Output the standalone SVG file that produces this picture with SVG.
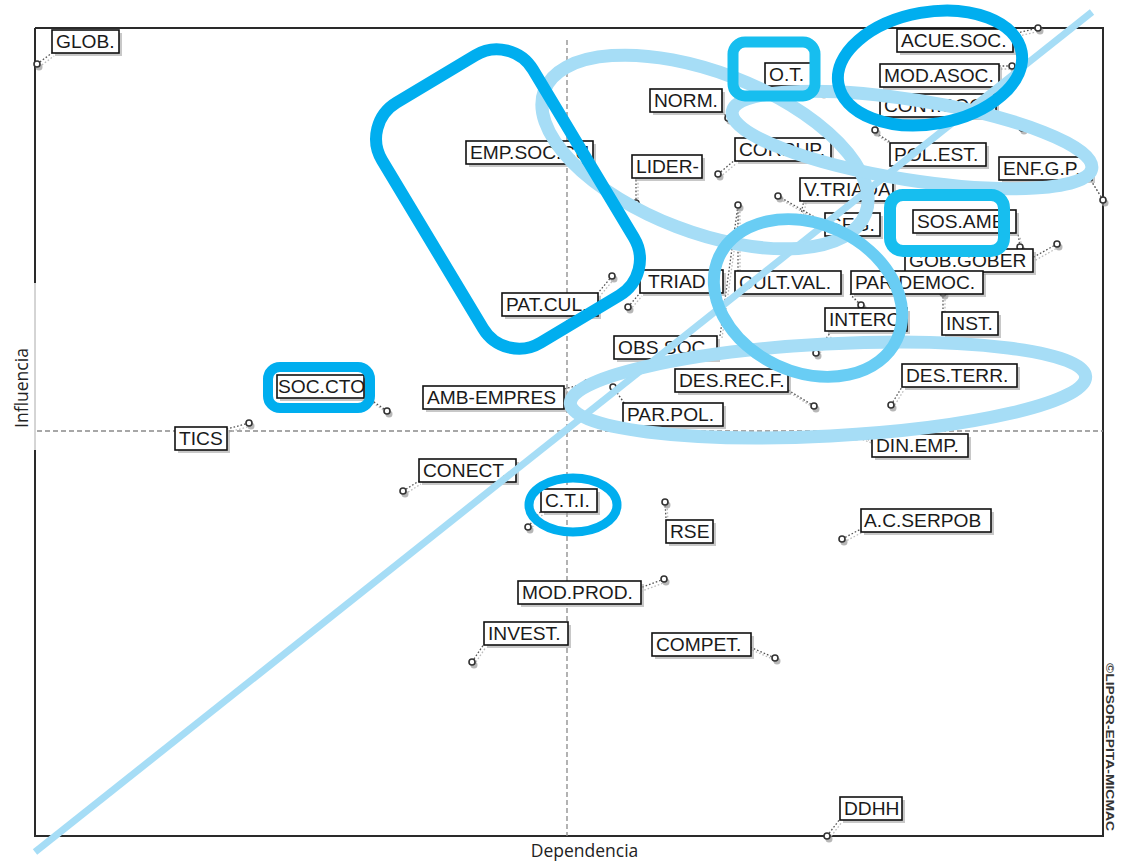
<svg xmlns="http://www.w3.org/2000/svg" width="1121" height="865" viewBox="0 0 1121 865">
<style>
.frame{stroke:#2a2a2a;stroke-width:2;fill:none}
.axis{stroke:#8a8a8a;stroke-width:1.3;stroke-dasharray:5 3;fill:none}
.sh{fill:#9a9a9a;opacity:.55}
.bx{fill:#fff;stroke:#111;stroke-width:1.6}
.lb{font-family:"Liberation Sans",Arial,sans-serif;font-size:19.2px;fill:#1a1a1a}
.ld{stroke:#555;stroke-width:1.3;stroke-dasharray:1.6 2;fill:none}
.lds{stroke:#bbb;stroke-width:1.3;stroke-dasharray:1.6 2;fill:none}
.pt{fill:#fff;stroke:#333;stroke-width:1.6}
.pts{fill:#999;opacity:.7}
.ax{font-family:"Open Sans","Noto Sans",sans-serif;font-size:17.5px;fill:#222}
.dk{fill:none;stroke:#00AEEF;stroke-width:12}
.md{fill:none;stroke:#17BEEF;stroke-width:11}
.mc{fill:none;stroke:#69CDF4;stroke-width:12}
.lt{fill:none;stroke:#A6DDF6;stroke-width:13}
</style>

<!-- frame and axes -->
<g id="frame">
<path class="frame" d="M35 28 H1103 V836 H35 V450 M35 283 V28"/>
<path d="M35 283 V450" stroke="#aaa" stroke-width="1" fill="none"/>
<path class="axis" d="M37 431 H1103"/>
<path class="axis" d="M567 40 V836"/>
<text class="ax" x="584.5" y="857" text-anchor="middle">Dependencia</text>
<text class="ax" transform="translate(28,388) rotate(-90)" text-anchor="middle">Influencia</text>
<text transform="translate(1106,663) rotate(90)" font-family="'Liberation Sans Narrow','Liberation Sans',sans-serif" font-size="10.5" font-weight="bold" fill="#333" textLength="168" lengthAdjust="spacingAndGlyphs">©LIPSOR-EPITA-MICMAC</text>
</g>

<!-- connectors (leaders and points) -->
<g id="connectors">
<path class="lds" d="M39 67 L54 56 M1015 37 L1040 31 M1001 69 L1014 69 M824 95 L811 87 M730 121 L722 112 M877 133 L882 116 M1024 131 L996 116 M602 186 L594 167 M638 206 L638 181 M720 177 L737 163 M875 134 L892 145 M1105 203 L1092 182 M780 199 L827 226 M802 222 L806 203 M1022 250 L1020 236 M1059 247 L1034 261 M740 208 L740 273 M863 308 L852 297 M945 296 L945 314 M818 356 L832 336 M630 310 L642 296 M614 279 L600 296 M722 338 L740 208 M816 409 L790 393 M589 386 L566 392 M615 390 L626 405 M893 408 L904 390 M856 437 L874 444 M389 414 L366 398 M251 426 L229 432 M405 494 L421 484 M530 530 L543 514 M667 505 L668 521 M666 582 L642 591 M474 665 L486 647 M777 661 L752 650 M844 542 L863 532 M829 839 L842 822"/>
<path class="ld" d="M37 64 L52 53 M1013 34 L1038 28 M999 66 L1012 66 M822 92 L809 84 M728 118 L720 109 M875 130 L880 114 M1022 128 L994 113 M600 183 L592 164 M636 203 L636 178 M718 174 L735 160 M873 131 L890 142 M1103 200 L1090 179 M778 196 L825 223 M800 219 L804 200 M1020 247 L1018 233 M1057 244 L1032 258 M738 205 L738 271 M861 305 L850 294 M943 293 L943 312 M816 353 L830 333 M628 307 L640 293 M612 276 L598 293 M720 336 L738 205 M814 406 L788 390 M587 383 L564 389 M613 387 L624 403 M891 405 L902 387 M854 434 L872 441 M387 411 L364 395 M249 423 L227 429 M403 491 L419 481 M528 527 L541 511 M665 502 L666 519 M664 579 L640 588 M472 662 L484 644 M775 658 L750 647 M842 539 L861 529 M827 836 L840 819"/>
<g class="pts">
<circle cx="39" cy="67" r="3.5"/><circle cx="1040" cy="31" r="3.5"/><circle cx="1014" cy="69" r="3.5"/><circle cx="824" cy="95" r="3.5"/><circle cx="730" cy="121" r="3.5"/><circle cx="877" cy="133" r="3.5"/><circle cx="1024" cy="131" r="3.5"/><circle cx="602" cy="186" r="3.5"/><circle cx="638" cy="206" r="3.5"/><circle cx="720" cy="177" r="3.5"/><circle cx="1105" cy="203" r="3.5"/><circle cx="780" cy="199" r="3.5"/><circle cx="802" cy="222" r="3.5"/><circle cx="1022" cy="250" r="3.5"/><circle cx="1059" cy="247" r="3.5"/><circle cx="740" cy="208" r="3.5"/><circle cx="863" cy="308" r="3.5"/><circle cx="945" cy="296" r="3.5"/><circle cx="818" cy="356" r="3.5"/><circle cx="630" cy="310" r="3.5"/><circle cx="614" cy="279" r="3.5"/><circle cx="816" cy="409" r="3.5"/><circle cx="589" cy="386" r="3.5"/><circle cx="615" cy="390" r="3.5"/><circle cx="893" cy="408" r="3.5"/><circle cx="856" cy="437" r="3.5"/><circle cx="389" cy="414" r="3.5"/><circle cx="251" cy="426" r="3.5"/><circle cx="405" cy="494" r="3.5"/><circle cx="530" cy="530" r="3.5"/><circle cx="667" cy="505" r="3.5"/><circle cx="666" cy="582" r="3.5"/><circle cx="474" cy="665" r="3.5"/><circle cx="777" cy="661" r="3.5"/><circle cx="844" cy="542" r="3.5"/><circle cx="829" cy="839" r="3.5"/>
</g>
<g class="pt">
<circle cx="37" cy="64" r="3"/><circle cx="1038" cy="28" r="3"/><circle cx="1012" cy="66" r="3"/><circle cx="822" cy="92" r="3"/><circle cx="728" cy="118" r="3"/><circle cx="875" cy="130" r="3"/><circle cx="1022" cy="128" r="3"/><circle cx="600" cy="183" r="3"/><circle cx="636" cy="203" r="3"/><circle cx="718" cy="174" r="3"/><circle cx="1103" cy="200" r="3"/><circle cx="778" cy="196" r="3"/><circle cx="800" cy="219" r="3"/><circle cx="1020" cy="247" r="3"/><circle cx="1057" cy="244" r="3"/><circle cx="738" cy="205" r="3"/><circle cx="861" cy="305" r="3"/><circle cx="943" cy="293" r="3"/><circle cx="816" cy="353" r="3"/><circle cx="628" cy="307" r="3"/><circle cx="612" cy="276" r="3"/><circle cx="814" cy="406" r="3"/><circle cx="587" cy="383" r="3"/><circle cx="613" cy="387" r="3"/><circle cx="891" cy="405" r="3"/><circle cx="854" cy="434" r="3"/><circle cx="387" cy="411" r="3"/><circle cx="249" cy="423" r="3"/><circle cx="403" cy="491" r="3"/><circle cx="528" cy="527" r="3"/><circle cx="665" cy="502" r="3"/><circle cx="664" cy="579" r="3"/><circle cx="472" cy="662" r="3"/><circle cx="775" cy="658" r="3"/><circle cx="842" cy="539" r="3"/><circle cx="827" cy="836" r="3"/>
</g>
</g>

<!-- nodes -->
<g id="n-glob"><rect class="sh" x="55" y="33" width="67" height="23"/><rect class="bx" x="52" y="30" width="67" height="23"/><text class="lb" x="56" y="48">GLOB.</text></g>
<g id="n-acuesoc"><rect class="sh" x="900" y="32" width="116" height="23"/><rect class="bx" x="897" y="29" width="116" height="23"/><text class="lb" x="901" y="47">ACUE.SOC.</text></g>
<g id="n-ot"><rect class="sh" x="768" y="66" width="46" height="23"/><rect class="bx" x="765" y="63" width="46" height="23"/><text class="lb" x="769" y="81">O.T.</text></g>
<g id="n-modasoc"><rect class="sh" x="883" y="67" width="119" height="23"/><rect class="bx" x="880" y="64" width="119" height="23"/><text class="lb" x="884" y="82">MOD.ASOC.</text></g>
<g id="n-norm"><rect class="sh" x="653" y="92" width="72" height="23"/><rect class="bx" x="650" y="89" width="72" height="23"/><text class="lb" x="654" y="107">NORM.</text></g>
<g id="n-contsoc"><rect class="sh" x="883" y="97" width="116" height="23"/><rect class="bx" x="880" y="94" width="116" height="23"/><text class="lb" x="884" y="112">CONT.SOC.</text></g>
<g id="n-empsoc"><rect class="sh" x="469" y="144" width="127" height="23"/><rect class="bx" x="466" y="141" width="127" height="23"/><text class="lb" x="470" y="159">EMP.SOC.CU.</text></g>
<g id="n-lider"><rect class="sh" x="635" y="158" width="70" height="23"/><rect class="bx" x="632" y="155" width="70" height="23"/><text class="lb" x="636" y="173">LIDER-</text></g>
<g id="n-corrup"><rect class="sh" x="738" y="141" width="96" height="23"/><rect class="bx" x="735" y="138" width="96" height="23"/><text class="lb" x="739" y="156">CORRUP.</text></g>
<g id="n-polest"><rect class="sh" x="893" y="146" width="96" height="23"/><rect class="bx" x="890" y="143" width="96" height="23"/><text class="lb" x="894" y="161">POL.EST.</text></g>
<g id="n-enfgp"><rect class="sh" x="1002" y="160" width="93" height="23"/><rect class="bx" x="999" y="157" width="93" height="23"/><text class="lb" x="1003" y="175">ENF.G.P.</text></g>
<g id="n-vtriada"><rect class="sh" x="803" y="181" width="93" height="23"/><rect class="bx" x="800" y="178" width="93" height="23"/><text class="lb" x="804" y="196">V.TRIADA</text></g>
<g id="n-seg"><rect class="sh" x="828" y="216" width="55" height="23"/><rect class="bx" x="825" y="213" width="55" height="23"/><text class="lb" x="829" y="231">SEG.</text></g>
<g id="n-sosamb"><rect class="sh" x="916" y="213" width="103" height="23"/><rect class="bx" x="913" y="210" width="103" height="23"/><text class="lb" x="917" y="228">SOS.AMB.</text></g>
<g id="n-gobgober"><rect class="sh" x="908" y="252" width="128" height="23"/><rect class="bx" x="905" y="249" width="128" height="23"/><text class="lb" x="909" y="267">GOB.GOBER</text></g>
<g id="n-cultval"><rect class="sh" x="738" y="274" width="106" height="23"/><rect class="bx" x="735" y="271" width="106" height="23"/><text class="lb" x="739" y="289">CULT.VAL.</text></g>
<g id="n-pardemoc"><rect class="sh" x="854" y="274" width="132" height="23"/><rect class="bx" x="851" y="271" width="132" height="23"/><text class="lb" x="855" y="289">PAR.DEMOC.</text></g>
<g id="n-inst"><rect class="sh" x="945" y="315" width="56" height="23"/><rect class="bx" x="942" y="312" width="56" height="23"/><text class="lb" x="946" y="330">INST.</text></g>
<g id="n-interc"><rect class="sh" x="828" y="311" width="82" height="23"/><rect class="bx" x="825" y="308" width="82" height="23"/><text class="lb" x="829" y="326">INTERC.</text></g>
<g id="n-triad"><rect class="sh" x="643" y="273" width="83" height="23"/><rect class="bx" x="640" y="270" width="83" height="23"/><text class="lb" x="648" y="288">TRIAD</text></g>
<g id="n-patcul"><rect class="sh" x="505" y="296" width="96" height="23"/><rect class="bx" x="502" y="293" width="96" height="23"/><text class="lb" x="506" y="311">PAT.CUL.</text></g>
<g id="n-obssoc"><rect class="sh" x="617" y="339" width="103" height="23"/><rect class="bx" x="614" y="336" width="103" height="23"/><text class="lb" x="618" y="354">OBS.SOC.</text></g>
<g id="n-desrecf"><rect class="sh" x="678" y="372" width="113" height="23"/><rect class="bx" x="675" y="369" width="113" height="23"/><text class="lb" x="679" y="387">DES.REC.F.</text></g>
<g id="n-ambempres"><rect class="sh" x="426" y="389" width="141" height="23"/><rect class="bx" x="423" y="386" width="141" height="23"/><text class="lb" x="427" y="404">AMB-EMPRES</text></g>
<g id="n-parpol"><rect class="sh" x="626" y="406" width="100" height="23"/><rect class="bx" x="623" y="403" width="100" height="23"/><text class="lb" x="627" y="421">PAR.POL.</text></g>
<g id="n-desterr"><rect class="sh" x="905" y="367" width="115" height="23"/><rect class="bx" x="902" y="364" width="115" height="23"/><text class="lb" x="906" y="382">DES.TERR.</text></g>
<g id="n-dinemp"><rect class="sh" x="875" y="437" width="96" height="23"/><rect class="bx" x="872" y="434" width="96" height="23"/><text class="lb" x="876" y="452">DIN.EMP.</text></g>
<g id="n-soccto"><rect class="sh" x="280" y="378" width="87" height="23"/><rect class="bx" x="277" y="375" width="87" height="23"/><text class="lb" x="278" y="393">SOC.CTO.</text></g>
<g id="n-tics"><rect class="sh" x="178" y="430" width="52" height="23"/><rect class="bx" x="175" y="427" width="52" height="23"/><text class="lb" x="179" y="445">TICS</text></g>
<g id="n-conect"><rect class="sh" x="422" y="462" width="97" height="23"/><rect class="bx" x="419" y="459" width="97" height="23"/><text class="lb" x="423" y="477">CONECT.</text></g>
<g id="n-cti"><rect class="sh" x="544" y="492" width="56" height="23"/><rect class="bx" x="541" y="489" width="56" height="23"/><text class="lb" x="545" y="507">C.T.I.</text></g>
<g id="n-rse"><rect class="sh" x="669" y="523" width="47" height="23"/><rect class="bx" x="666" y="520" width="47" height="23"/><text class="lb" x="670" y="538">RSE</text></g>
<g id="n-modprod"><rect class="sh" x="521" y="584" width="123" height="23"/><rect class="bx" x="518" y="581" width="123" height="23"/><text class="lb" x="522" y="599">MOD.PROD.</text></g>
<g id="n-invest"><rect class="sh" x="487" y="625" width="84" height="23"/><rect class="bx" x="484" y="622" width="84" height="23"/><text class="lb" x="488" y="640">INVEST.</text></g>
<g id="n-compet"><rect class="sh" x="655" y="636" width="99" height="23"/><rect class="bx" x="652" y="633" width="99" height="23"/><text class="lb" x="656" y="651">COMPET.</text></g>
<g id="n-acserpob"><rect class="sh" x="864" y="512" width="130" height="23"/><rect class="bx" x="861" y="509" width="130" height="23"/><text class="lb" x="864" y="527">A.C.SERPOB</text></g>
<g id="n-ddhh"><rect class="sh" x="843" y="800" width="62" height="23"/><rect class="bx" x="840" y="797" width="62" height="23"/><text class="lb" x="844" y="815">DDHH</text></g>

<!-- highlight overlays -->
<g id="highlights">
<line class="lt" x1="35" y1="852" x2="1092" y2="12" style="stroke-width:7"/>
<ellipse class="lt" cx="705" cy="152" rx="172" ry="80" transform="rotate(21 705 152)"/>
<ellipse class="lt" cx="912" cy="140" rx="182" ry="40" transform="rotate(9 912 140)"/>
<ellipse class="lt" cx="828" cy="390" rx="258" ry="46" transform="rotate(-3 828 390)"/>
<ellipse class="mc" cx="808" cy="298" rx="98" ry="74" transform="rotate(25 808 298)"/>
<rect class="dk" x="-88" y="-140" width="176" height="280" rx="42" transform="translate(508,199) rotate(-31)"/>
<ellipse class="dk" cx="930" cy="68" rx="93" ry="56" transform="rotate(-10 930 68)"/>
<rect class="md" x="733" y="42" width="82" height="54" rx="12"/>
<rect class="md" x="890" y="195" width="114" height="56" rx="13" style="stroke-width:12"/>
<rect class="dk" x="268" y="367" width="102" height="41" rx="12" style="stroke-width:10"/>
<ellipse class="dk" cx="573" cy="505" rx="44" ry="27" style="stroke-width:9"/>
</g>
</svg>
